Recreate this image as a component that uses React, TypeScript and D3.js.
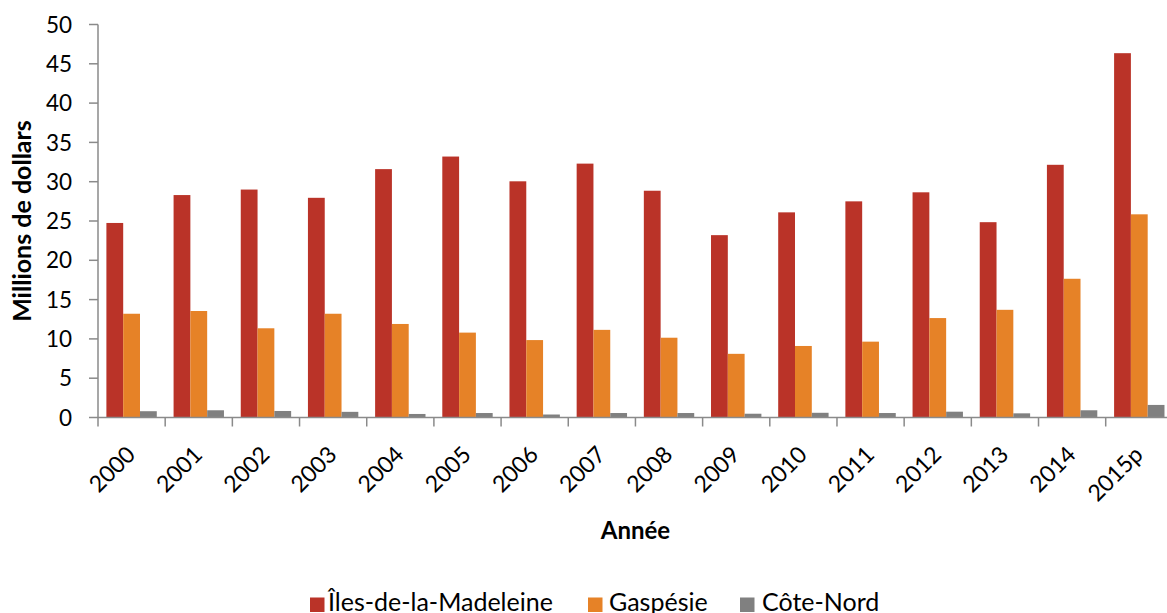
import React from "react";
import * as d3 from "d3";

const years = ["2000","2001","2002","2003","2004","2005","2006","2007","2008","2009","2010","2011","2012","2013","2014","2015p"];
const seriesNames = ["Îles-de-la-Madeleine", "Gaspésie", "Côte-Nord"];
const iles = [24.75, 28.3, 29.0, 27.95, 31.6, 33.2, 30.05, 32.3, 28.85, 23.2, 26.1, 27.5, 28.65, 24.85, 32.15, 46.35];
const gaspesie = [13.2, 13.55, 11.35, 13.2, 11.9, 10.8, 9.85, 11.15, 10.15, 8.1, 9.1, 9.65, 12.65, 13.7, 17.65, 25.85];
const coteNord = [0.8, 0.92, 0.83, 0.72, 0.45, 0.57, 0.38, 0.57, 0.57, 0.48, 0.6, 0.57, 0.74, 0.53, 0.92, 1.6];
const yTicks = [0, 5, 10, 15, 20, 25, 30, 35, 40, 45, 50];
const colors = ["#BA3328", "#E68227", "#808080"];

const W = 1167, H = 613;
const left = 98, bottom = 417.5, top = 24.5;
const catW = 67.18;
const font = "Lato, 'Open Sans', sans-serif";
const axisColor = "#8a8a8a";

export default function App() {
  const values = [iles, gaspesie, coteNord];
  const x = d3.scaleBand<string>().domain(years).range([left, left + years.length * catW]).paddingInner(0).paddingOuter(0);
  const xs = d3.scaleBand<string>().domain(seriesNames).range([catW / 8, catW * 7 / 8]).padding(0);
  const y = d3.scaleLinear().domain([0, 50]).range([bottom, top]);

  return (
    <svg width={W} height={H} style={{ position: "absolute", left: 0, top: 0, background: "#fff" }} fontFamily={font}>
      {/* bars */}
      {years.map((yr, i) => (
        <g key={yr}>
          {seriesNames.map((s, k) => (
            <rect key={s}
              x={(x(yr) as number) + (xs(s) as number)}
              y={y(values[k][i])}
              width={xs.bandwidth()}
              height={bottom - y(values[k][i])}
              fill={colors[k]} />
          ))}
        </g>
      ))}
      {/* y axis */}
      <line x1={left} x2={left} y1={top} y2={bottom} stroke={axisColor} strokeWidth={1.5} />
      {yTicks.map(t => (
        <g key={t}>
          <line x1={left - 9} x2={left} y1={y(t)} y2={y(t)} stroke={axisColor} strokeWidth={1.5} />
          <text x={72} y={y(t)} dy="0.36em" textAnchor="end" fontSize={22.5} fill="#000">{t}</text>
        </g>
      ))}
      {/* x axis */}
      <line x1={left} x2={left + years.length * catW} y1={bottom} y2={bottom} stroke={axisColor} strokeWidth={1.5} />
      {years.map((yr) => (
        <line key={"t" + yr} x1={x(yr) as number} x2={x(yr) as number} y1={bottom} y2={bottom + 9} stroke={axisColor} strokeWidth={1.5} />
      ))}
      {years.map((yr) => {
        const cx = (x(yr) as number) + x.bandwidth() / 2 + 5;
        return (
          <text key={"l" + yr} transform={`translate(${cx},${456}) rotate(-45)`} textAnchor="end" fontSize={23} fill="#000">{yr}</text>
        );
      })}
      {/* axis titles */}
      <text transform={`translate(31,${(top + bottom) / 2}) rotate(-90)`} textAnchor="middle" fontSize={25} fontWeight="bold" fill="#000">Millions de dollars</text>
      <text x={left + years.length * catW / 2} y={539} textAnchor="middle" fontSize={24} fontWeight="bold" fill="#000">Année</text>
      {/* legend */}
      {[
        { sq: 310, tx: 328 },
        { sq: 588, tx: 609 },
        { sq: 740, tx: 762 },
      ].map((p, k) => (
        <g key={seriesNames[k]}>
          <rect x={p.sq} y={597.5} width={14.5} height={14.5} fill={colors[k]} />
          <text x={p.tx} y={611} fontSize={25} fill="#000">{seriesNames[k]}</text>
        </g>
      ))}
    </svg>
  );
}
